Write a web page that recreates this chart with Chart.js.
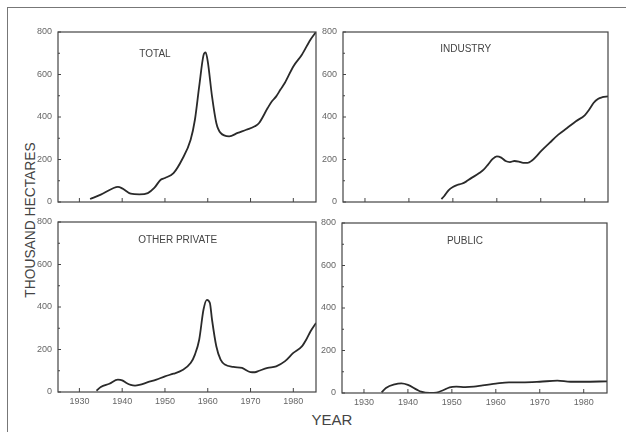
<!DOCTYPE html>
<html>
<head>
<meta charset="utf-8">
<script src="https://cdn.jsdelivr.net/npm/chart.js@4/dist/chart.umd.min.js"></script>
<style>
  body { margin: 0; width: 626px; height: 432px; background: #fff; position: relative; overflow: hidden; font-family: Arial, "Liberation Sans", sans-serif; }
  canvas { position: absolute; }
  .frameTop { position: absolute; left: 8px; top: 7px; width: 640px; height: 0; border-top: 1.5px solid #777; }
  .frameLeft { position: absolute; left: 7px; top: 7px; width: 0; height: 440px; border-left: 1.5px solid #777; }
  .ylab { position: absolute; left: 29px; top: 220px; transform: translate(-50%, -50%) rotate(-90deg) scaleX(0.92); white-space: nowrap; font-size: 15px; color: #444; }
  .xlab { position: absolute; left: 332px; top: 419px; transform: translate(-50%, -50%); font-size: 15px; color: #444; }
</style>
</head>
<body>
<div class="frameTop"></div>
<div class="frameLeft"></div>
<div class="ylab">THOUSAND HECTARES</div>
<div class="xlab">YEAR</div>
<canvas id="cTotal"></canvas>
<canvas id="cIndustry"></canvas>
<canvas id="cOther"></canvas>
<canvas id="cPublic"></canvas>
<script>
// valeurs (milliers d'hectares)
const xTickYears = [1930, 1940, 1950, 1960, 1970, 1980];
const yTicks = [0, 200, 400, 600, 800];
const yMinorTicks = [100, 300, 500, 700];

const totalYears = [1932.5, 1935, 1938, 1939, 1940, 1942, 1944, 1946, 1947.5, 1949, 1950, 1952, 1954, 1956, 1957, 1958, 1959, 1959.5, 1960, 1961, 1962, 1963, 1965, 1967, 1969, 1971, 1972, 1974, 1975, 1976, 1977, 1978, 1980, 1982, 1984, 1985.3];
const totalValues = [14, 35, 66, 71, 64, 39, 36, 42, 66, 105, 113, 136, 200, 293, 387, 544, 690, 704, 662, 497, 372, 325, 309, 325, 340, 356, 372, 442, 474, 497, 529, 560, 638, 693, 764, 800];

const industryYears = [1947.4, 1948, 1949, 1950, 1951, 1952, 1953, 1954, 1956, 1957, 1958, 1959, 1960, 1961, 1962, 1963, 1964, 1965, 1966, 1967, 1968, 1969, 1970, 1972, 1974, 1976, 1978, 1980, 1981, 1982, 1983, 1984, 1985.3];
const industryValues = [14, 27, 55, 71, 80, 86, 96, 110, 136, 152, 176, 202, 215, 209, 193, 188, 193, 190, 184, 184, 195, 215, 238, 278, 317, 348, 380, 408, 434, 466, 485, 493, 497];

const otherYears = [1934, 1935, 1937, 1939, 1940, 1941, 1942, 1943, 1944, 1946, 1948, 1950, 1952, 1954, 1956, 1957, 1958, 1959, 1959.8, 1960.5, 1961, 1962, 1963, 1964, 1966, 1968, 1970, 1971, 1972, 1974, 1976, 1978, 1980, 1982, 1983, 1984, 1985.3];
const otherValues = [6, 24, 39, 58, 55, 42, 33, 30, 33, 46, 58, 74, 86, 102, 136, 176, 246, 387, 434, 419, 340, 215, 152, 129, 118, 113, 94, 93, 100, 113, 121, 144, 184, 215, 246, 285, 325];

const publicYears = [1934, 1935, 1937, 1938.5, 1940, 1942, 1943, 1945, 1946.5, 1948, 1949.5, 1951, 1953, 1955, 1957, 1960, 1963, 1966, 1970, 1974, 1977, 1980, 1985.3];
const publicValues = [3, 24, 41, 45, 38, 16, 6, 0, 2, 13, 27, 30, 28, 30, 36, 44, 50, 50, 53, 58, 53, 53, 55];

const Y_AXIS_W = 45;
const X_AXIS_H = 22;
const PAD = 10;

// cadre, petites graduations intérieures et titre du panneau
const panelPlugin = {
    id: 'panelDecor',
    afterDraw(chart, args, opts) {
        const ctx = chart.ctx;
        const a = chart.chartArea;
        const xs = chart.scales.x;
        const ys = chart.scales.y;
        ctx.save();
        ctx.strokeStyle = '#444';
        ctx.lineWidth = 1.2;
        ctx.strokeRect(a.left, a.top, a.right - a.left, a.bottom - a.top);
        ctx.lineWidth = 1;
        ctx.beginPath();
        xTickYears.forEach(function(v) {
            const px = xs.getPixelForValue(v);
            ctx.moveTo(px, a.bottom);
            ctx.lineTo(px, a.bottom - 4);
        });
        yTicks.forEach(function(v) {
            const py = ys.getPixelForValue(v);
            ctx.moveTo(a.left, py);
            ctx.lineTo(a.left + 3, py);
        });
        yMinorTicks.forEach(function(v) {
            const py = ys.getPixelForValue(v);
            ctx.moveTo(a.left, py);
            ctx.lineTo(a.left + 2, py);
        });
        ctx.stroke();
        ctx.fillStyle = '#444';
        ctx.font = '10px Arial, "Liberation Sans", sans-serif';
        ctx.textAlign = 'center';
        ctx.textBaseline = 'middle';
        ctx.fillText(opts.text, a.left + (a.right - a.left) * opts.fx, a.top + opts.dy);
        ctx.restore();
    }
};

function makePanel(id, area, years, values, title, fx, dy, showXLabels) {
    const canvas = document.getElementById(id);
    const w = (area[2] - area[0]) + Y_AXIS_W + PAD;
    const h = (area[3] - area[1]) + PAD + X_AXIS_H;
    canvas.width = w;
    canvas.height = h;
    canvas.style.left = (area[0] - Y_AXIS_W) + 'px';
    canvas.style.top = (area[1] - PAD) + 'px';

    const points = years.map(function(yr, i) { return { x: yr, y: values[i] }; });

    return new Chart(canvas, {
        type: 'line',
        data: {
            datasets: [{
                data: points,
                borderColor: '#2a2a2a',
                borderWidth: 1.8,
                pointRadius: 0,
                tension: 0.4,
                cubicInterpolationMode: 'monotone',
                fill: false
            }]
        },
        options: {
            responsive: false,
            animation: false,
            devicePixelRatio: 1,
            layout: { padding: { left: 0, top: PAD, right: PAD, bottom: 0 } },
            plugins: {
                legend: { display: false },
                tooltip: { enabled: false },
                panelDecor: { text: title, fx: fx, dy: dy }
            },
            scales: {
                x: {
                    type: 'linear',
                    min: 1925,
                    max: 1985.3,
                    grid: { display: false, drawTicks: false },
                    border: { display: false },
                    ticks: {
                        display: showXLabels,
                        padding: 4,
                        color: '#666',
                        font: { family: 'Arial, "Liberation Sans", sans-serif', size: 9 },
                        maxRotation: 0,
                        autoSkip: false,
                        callback: function(v) { return String(v); }
                    },
                    afterBuildTicks: function(scale) {
                        scale.ticks = xTickYears.map(function(v) { return { value: v }; });
                    },
                    afterFit: function(scale) {
                        scale.height = X_AXIS_H;
                        scale.paddingLeft = 0;
                        scale.paddingRight = 0;
                    }
                },
                y: {
                    min: 0,
                    max: 800,
                    grid: { display: false, drawTicks: false },
                    border: { display: false },
                    ticks: {
                        padding: 6,
                        color: '#666',
                        font: { family: 'Arial, "Liberation Sans", sans-serif', size: 9 }
                    },
                    afterBuildTicks: function(scale) {
                        scale.ticks = yTicks.map(function(v) { return { value: v }; });
                    },
                    afterFit: function(scale) {
                        scale.width = Y_AXIS_W;
                        scale.paddingTop = 0;
                        scale.paddingBottom = 0;
                    }
                }
            }
        },
        plugins: [panelPlugin]
    });
}

makePanel('cTotal', [58, 32, 316, 202], totalYears, totalValues, 'TOTAL', 0.376, 22, false);
makePanel('cIndustry', [343, 32, 608, 202], industryYears, industryValues, 'INDUSTRY', 0.463, 17, false);
makePanel('cOther', [58, 222, 316, 392], otherYears, otherValues, 'OTHER PRIVATE', 0.464, 18, true);
makePanel('cPublic', [342, 223, 607, 393], publicYears, publicValues, 'PUBLIC', 0.464, 18, true);
</script>
</body>
</html>
